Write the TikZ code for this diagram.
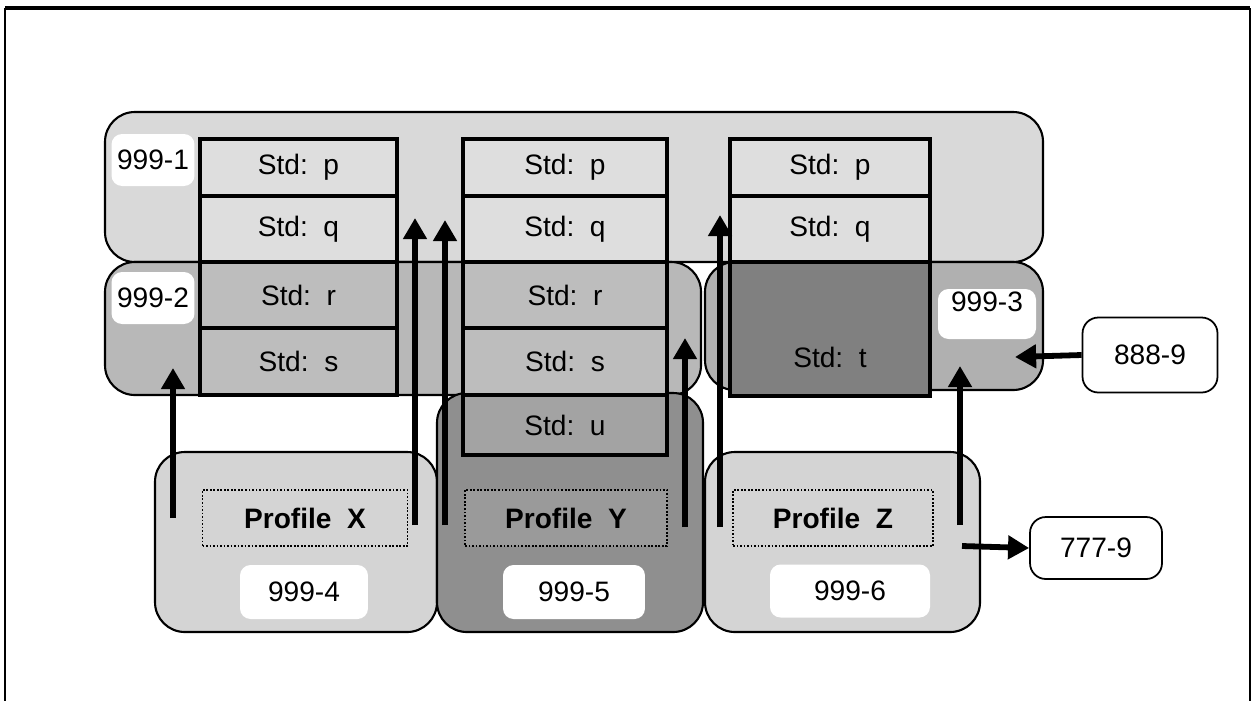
\documentclass[tikz,border=0pt]{standalone}
\usepackage{fontspec}
\setmainfont{Liberation Sans}
\usetikzlibrary{arrows.meta}
\colorlet{shadeTop}{black!15}
\colorlet{shadeRow}{black!28}
\colorlet{shadeMid}{black!44}
\colorlet{shadeLow}{black!17}
\colorlet{cellA}{black!13}
\colorlet{cellB}{black!26}
\colorlet{cellC}{black!36}
\colorlet{cellD}{black!50}
\begin{document}
\begin{tikzpicture}[x=0.02cm, y=-0.02cm,
    every node/.style={font=\fontsize{16}{18}\selectfont},
    roundbox/.style={draw=black, line width=1.2pt, rounded corners=17pt},
    tagbox/.style={fill=white, rounded corners=6pt, inner sep=0pt},
    stdbox/.style={draw=black, line width=2.2pt},
    profbox/.style={draw=black, line width=1pt, densely dotted, inner sep=0pt},
    idbox/.style={draw=black, line width=1pt, fill=white, rounded corners=9pt, inner sep=0pt},
    upflow/.style={line width=3.3pt, -{Triangle[width=13pt,length=12pt]}}]
        \useasboundingbox (0,0) rectangle (1256,701);
        \draw[line width=2.4pt] (5,8) -- (1250,8);
        \draw[line width=1pt] (5,8) -- (5,701);
        \draw[line width=1pt] (1250,8) -- (1250,701);
        \draw[roundbox, fill=shadeTop] (105,112) rectangle (1043,262);
        \draw[roundbox, fill=shadeRow] (105,262) rectangle (701,395);
        \draw[roundbox, fill=shadeRow!110] (705,262) rectangle (1043,390);
        \draw[roundbox, fill=shadeLow] (155,452) rectangle (437,632);
        \draw[roundbox, fill=shadeLow] (705,452) rectangle (980,632);
        \draw[roundbox, fill=shadeMid] (437,393) rectangle (703,632);
        \node[tagbox, minimum width=1.66cm, minimum height=1.04cm] (tag1) at (153,160) {999-1};
        \node[tagbox, minimum width=1.66cm, minimum height=1.04cm] (tag2) at (153,298) {999-2};
        \node[tagbox, minimum width=1.96cm, minimum height=1cm, text depth=0.5cm] (tag3) at (987,314) {999-3};
        \node[tagbox, minimum width=2.56cm, minimum height=1.08cm] (tag4) at (304,592) {999-4};
        \node[tagbox, minimum width=2.84cm, minimum height=1.08cm] (tag5) at (574,592) {999-5};
        \node[tagbox, minimum width=3.2cm, minimum height=1.06cm] (tag6) at (850,591) {999-6};
        \foreach \n/\x/\w in {1/200/197, 2/463/204, 3/730/200}{
        \draw[stdbox, fill=cellA] (\x,139) rectangle ++(\w,57) node[midway] (p\n) {Std:~~p};
        \draw[stdbox, fill=cellA] (\x,196) rectangle ++(\w,66) node[midway] (q\n) {Std:~~q};}
        \foreach \n/\x/\w in {1/200/197, 2/463/204}{
        \draw[stdbox, fill=cellB] (\x,262) rectangle ++(\w,66) node[midway] (r\n) {Std:~~r};
        \draw[stdbox, fill=cellB] (\x,328) rectangle ++(\w,67) node[midway] (s\n) {Std:~~s};}
        \draw[stdbox, fill=cellC] (463,395) rectangle ++(204,60) node[midway] (u2) {Std:~~u};
        \draw[stdbox, fill=cellD] (730,262) rectangle (930,396);
        \node (t3) at (830,357) {Std:~~t};
        \node[profbox, fill=shadeLow, minimum width=4.1cm, minimum height=1.12cm] (profX) at (305,518) {\textbf{Profile~~X}};
        \node[profbox, fill=shadeMid!90, minimum width=4.04cm, minimum height=1.12cm] (profY) at (566,518) {\textbf{Profile~~Y}};
        \node[profbox, fill=shadeLow, minimum width=4cm, minimum height=1.12cm] (profZ) at (833,518) {\textbf{Profile~~Z}};
        \node[idbox, minimum width=2.7cm, minimum height=1.5cm] (id888) at (1150,355) {888-9};
        \node[idbox, minimum width=2.64cm, minimum height=1.24cm] (id777) at (1096,548) {777-9};
        \foreach \i/\x/\s/\e in {1/173/518/368, 2/415/525/218, 3/445/525/220, 4/685/527/338, 5/720/527/215, 6/960/525/366}{
        \coordinate (src\i) at (\x,\s);
        \coordinate (dst\i) at (\x,\e);
        \draw[upflow] (src\i) -- (dst\i);}
        \coordinate (in3) at (1015,357);
        \coordinate (out6) at (962,546);
        \draw[upflow] (id888.west) -- (in3);
        \draw[upflow] (out6) -- (id777.west);
    \end{tikzpicture}
\end{document}
